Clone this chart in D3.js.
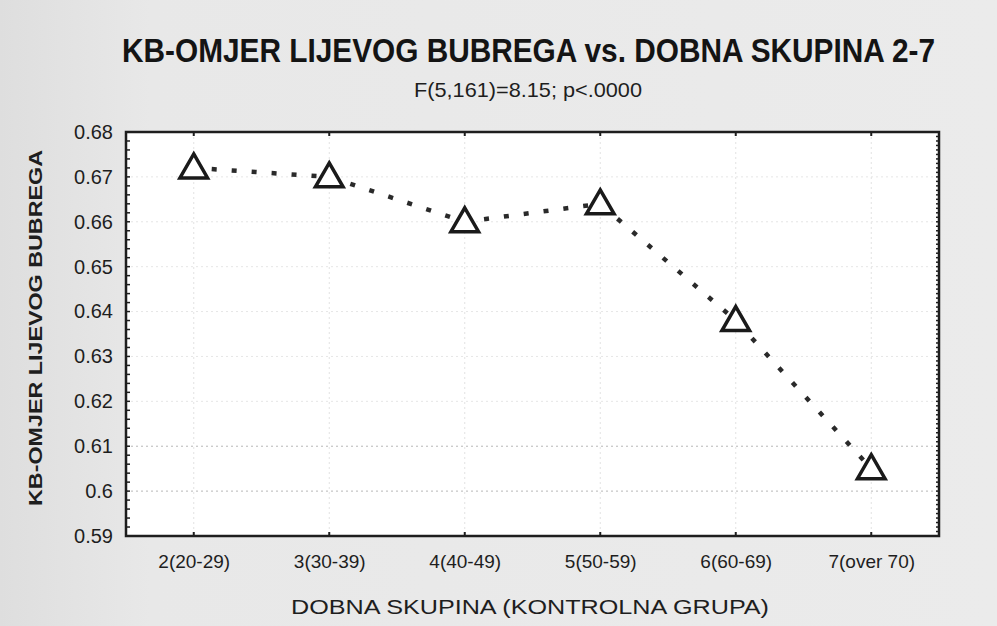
<!DOCTYPE html>
<html>
<head>
<meta charset="utf-8">
<script src="https://cdn.jsdelivr.net/npm/d3@7"></script>
<style>
  html, body { margin: 0; padding: 0; background: #e9e9e9; }
  svg { display: block; }
</style>
</head>
<body>
<svg id="chart" width="997" height="626"></svg>
<script>
// Age groups (x categories) and mean left-kidney ratio per group
const categories = ["2(20-29)", "3(30-39)", "4(40-49)", "5(50-59)", "6(60-69)", "7(over 70)"];
const ratioValues = [0.672, 0.670, 0.660, 0.664, 0.638, 0.605];
const yTicks = [0.59, 0.6, 0.61, 0.62, 0.63, 0.64, 0.65, 0.66, 0.67, 0.68];
const yTickLabels = ["0.59", "0.6", "0.61", "0.62", "0.63", "0.64", "0.65", "0.66", "0.67", "0.68"];

const titleText = "KB-OMJER LIJEVOG BUBREGA vs. DOBNA SKUPINA 2-7";
const subtitleText = "F(5,161)=8.15; p<.0000";
const xTitleText = "DOBNA SKUPINA (KONTROLNA GRUPA)";
const yTitleText = "KB-OMJER  LIJEVOG  BUBREGA";

const svg = d3.select("#chart");
const W = 997, H = 626;
const plot = { left: 126, top: 132, right: 939, bottom: 536 };
const ink = "#1e1e1e";

// background
const defs = svg.append("defs");
const bg = defs.append("linearGradient").attr("id", "bgShade").attr("x1", 0).attr("x2", 1).attr("y1", 0).attr("y2", 0);
bg.append("stop").attr("offset", "0%").attr("stop-color", "#dedede");
bg.append("stop").attr("offset", "15%").attr("stop-color", "#e8e8e8");
bg.append("stop").attr("offset", "100%").attr("stop-color", "#ebebeb");
svg.append("rect").attr("width", W).attr("height", H).attr("fill", "url(#bgShade)");
svg.append("rect")
  .attr("x", plot.left).attr("y", plot.top)
  .attr("width", plot.right - plot.left).attr("height", plot.bottom - plot.top)
  .attr("fill", "#ffffff");

const x = d3.scalePoint().domain(categories).range([plot.left, plot.right]).padding(0.5);
const y = d3.scaleLinear().domain([0.59, 0.68]).range([plot.bottom, plot.top]);

// dotted grid
const grid = svg.append("g");
grid.selectAll("line.h").data(yTicks.slice(1, -1)).join("line")
  .attr("x1", plot.left).attr("x2", plot.right)
  .attr("y1", d => y(d)).attr("y2", d => y(d))
  .attr("stroke", d => d <= 0.61 ? "#b8b8b8" : "#e6e6e6")
  .attr("stroke-width", 1).attr("stroke-dasharray", "2,3");
grid.selectAll("line.v").data(categories).join("line")
  .attr("x1", d => x(d)).attr("x2", d => x(d))
  .attr("y1", plot.top).attr("y2", plot.bottom)
  .attr("stroke", "#e2e2e2").attr("stroke-width", 1).attr("stroke-dasharray", "2,3");

// minor ticks on left and right edges
const minorLeft = d3.range(0, 46).map(i => 0.59 + i * 0.002).filter(v => v <= 0.6801);
svg.append("g").selectAll("line").data(minorLeft).join("line")
  .attr("x1", plot.left).attr("x2", plot.left + 4)
  .attr("y1", d => y(d)).attr("y2", d => y(d))
  .attr("stroke", ink).attr("stroke-width", 1.5);
const minorRight = d3.range(0, 91).map(i => 0.59 + i * 0.001);
svg.append("g").selectAll("line").data(minorRight).join("line")
  .attr("x1", plot.right).attr("x2", plot.right - 3)
  .attr("y1", d => y(d)).attr("y2", d => y(d))
  .attr("stroke", ink).attr("stroke-width", 1.5);

// category ticks on top and bottom edges
svg.append("g").selectAll("line").data(categories).join("line")
  .attr("x1", d => x(d)).attr("x2", d => x(d))
  .attr("y1", plot.top).attr("y2", plot.top + 4)
  .attr("stroke", ink).attr("stroke-width", 2);
svg.append("g").selectAll("line").data(categories).join("line")
  .attr("x1", d => x(d)).attr("x2", d => x(d))
  .attr("y1", plot.bottom).attr("y2", plot.bottom - 4)
  .attr("stroke", ink).attr("stroke-width", 2);

// frame
svg.append("rect")
  .attr("x", plot.left).attr("y", plot.top)
  .attr("width", plot.right - plot.left).attr("height", plot.bottom - plot.top)
  .attr("fill", "none").attr("stroke", ink).attr("stroke-width", 2.5);

// y axis labels
const yAxis = d3.axisLeft(y).tickValues(yTicks)
  .tickFormat((d, i) => yTickLabels[i]).tickSize(0).tickPadding(13);
const gy = svg.append("g").attr("transform", `translate(${plot.left},0)`).call(yAxis);
gy.select(".domain").remove();
gy.selectAll("text")
  .attr("font-family", "Liberation Sans, Arial, sans-serif")
  .attr("font-size", 20).attr("fill", ink);

// x axis labels
const xAxis = d3.axisBottom(x).tickSize(0).tickPadding(19);
const gx = svg.append("g").attr("transform", `translate(0,${plot.bottom})`).call(xAxis);
gx.select(".domain").remove();
gx.selectAll("text")
  .attr("font-family", "Liberation Sans, Arial, sans-serif")
  .attr("font-size", 19).attr("fill", ink);

// connecting dotted line
const line = d3.line().x((d, i) => x(categories[i])).y(d => y(d));
svg.append("path").datum(ratioValues)
  .attr("d", line)
  .attr("fill", "none").attr("stroke", "#2a2a2a")
  .attr("stroke-width", 4.5).attr("stroke-dasharray", "5,15")
  .attr("stroke-dashoffset", -18);

// triangle markers
const tri = d3.symbol().type(d3.symbolTriangle).size(330);
svg.append("g").selectAll("path").data(ratioValues).join("path")
  .attr("d", tri)
  .attr("transform", (d, i) => `translate(${x(categories[i])},${y(d) + 2})`)
  .attr("fill", "#ffffff").attr("stroke", "#1a1a1a").attr("stroke-width", 3.5)
  .attr("stroke-linejoin", "miter");

// titles
svg.append("text").text(titleText)
  .attr("transform", "translate(122,62) scale(1,1.12)")
  .attr("x", 0).attr("y", 0)
  .attr("textLength", 813).attr("lengthAdjust", "spacingAndGlyphs")
  .attr("font-family", "Liberation Sans, Arial, sans-serif")
  .attr("font-weight", "bold").attr("font-size", 29).attr("fill", "#141414");

svg.append("text").text(subtitleText)
  .attr("x", 528).attr("y", 97).attr("text-anchor", "middle")
  .attr("textLength", 228).attr("lengthAdjust", "spacingAndGlyphs")
  .attr("font-family", "Liberation Sans, Arial, sans-serif")
  .attr("font-size", 21).attr("fill", ink);

svg.append("text").text(xTitleText)
  .attr("x", 530).attr("y", 614).attr("text-anchor", "middle")
  .attr("textLength", 478).attr("lengthAdjust", "spacingAndGlyphs")
  .attr("font-family", "Liberation Sans, Arial, sans-serif")
  .attr("font-size", 20).attr("fill", ink);

svg.append("text").text(yTitleText)
  .attr("transform", "translate(42,328) rotate(-90)")
  .attr("text-anchor", "middle")
  .attr("textLength", 356).attr("lengthAdjust", "spacingAndGlyphs")
  .attr("font-family", "Liberation Sans, Arial, sans-serif")
  .attr("font-weight", "bold").attr("font-size", 19).attr("fill", ink);
</script>
</body>
</html>
